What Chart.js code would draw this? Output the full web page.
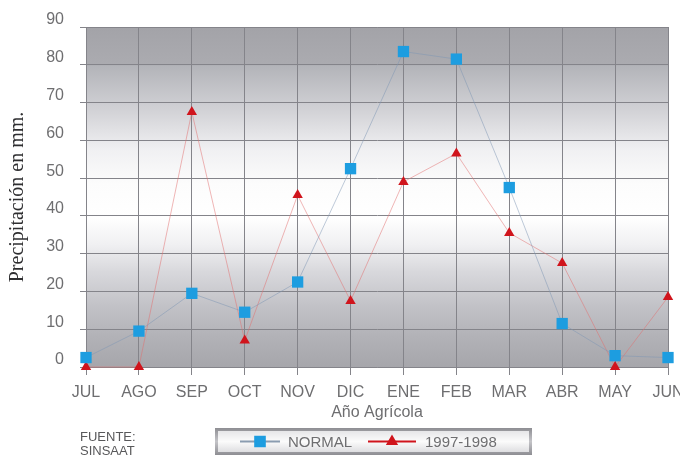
<!DOCTYPE html>
<html>
<head>
<meta charset="utf-8">
<script src="https://cdn.jsdelivr.net/npm/chart.js@4/dist/chart.umd.min.js"></script>
<style>
    html, body { margin: 0; padding: 0; background: #fff; }
</style>
</head>
<body>
<canvas id="myChart" width="680" height="458"></canvas>
<script>
// datos
const months = ["JUL", "AGO", "SEP", "OCT", "NOV", "DIC", "ENE", "FEB", "MAR", "ABR", "MAY", "JUN"];
const normal = [2.5, 9.5, 19.5, 14.5, 22.5, 52.5, 83.5, 81.5, 47.5, 11.5, 3, 2.5];
const season9798 = [0, 0, 67.5, 7, 45.5, 17.5, 49, 56.5, 35.5, 27.5, 0, 18.5];
const seriesNames = ["NORMAL", "1997-1998"];
const yMin = 0, yMax = 90, yStep = 10;

const textGray = "#6e6e70";

// fondo degradado del area de trazado
const plotBg = {
    id: "plotBg",
    beforeDraw(chart) {
        const { ctx, chartArea: a } = chart;
        const g = ctx.createLinearGradient(0, a.top, 0, a.bottom);
        g.addColorStop(0, "#a3a3a8");
        g.addColorStop(0.11, "#ababb0");
        g.addColorStop(0.115, "#b3b4b9");
        g.addColorStop(0.25, "#d3d3d7");
        g.addColorStop(0.36, "#f0f0f2");
        g.addColorStop(0.46, "#fcfcfc");
        g.addColorStop(0.56, "#ffffff");
        g.addColorStop(0.64, "#f0f0f2");
        g.addColorStop(0.72, "#d8d8dc");
        g.addColorStop(0.82, "#c2c2c7");
        g.addColorStop(0.91, "#b2b2b7");
        g.addColorStop(1, "#a6a6ab");
        ctx.save();
        ctx.fillStyle = g;
        ctx.fillRect(a.left, a.top, a.right - a.left, a.bottom - a.top);
        ctx.restore();
    }
};

// leyenda en caja gris + fuente
const boxLegend = {
    id: "boxLegend",
    afterDraw(chart) {
        const ctx = chart.ctx;
        const bx = 215, by = 428, bw = 317, bh = 27;
        ctx.save();
        let g = ctx.createLinearGradient(0, by, 0, by + bh);
        g.addColorStop(0, "#8e8e93");
        g.addColorStop(0.5, "#c4c4c8");
        g.addColorStop(1, "#8e8e93");
        ctx.fillStyle = g;
        ctx.fillRect(bx, by, bw, bh);
        g = ctx.createLinearGradient(0, by + 3, 0, by + bh - 3);
        g.addColorStop(0, "#e6e6e8");
        g.addColorStop(0.5, "#fbfbfb");
        g.addColorStop(1, "#dedee1");
        ctx.fillStyle = g;
        ctx.fillRect(bx + 3, by + 3, bw - 6, bh - 6);

        const cy = by + bh / 2;
        const items = [
            { x0: 240, x1: 280, tx: 288, line: "#8a9cb0" },
            { x0: 368, x1: 416, tx: 425, line: "#d0141c" }
        ];
        chart.data.datasets.forEach((ds, i) => {
            const it = items[i];
            ctx.strokeStyle = it.line;
            ctx.lineWidth = 2;
            ctx.beginPath();
            ctx.moveTo(it.x0, cy);
            ctx.lineTo(it.x1, cy);
            ctx.stroke();
            ctx.fillStyle = ds.pointBackgroundColor;
            ctx.strokeStyle = ds.pointBorderColor;
            Chart.helpers.drawPoint(ctx, {
                pointStyle: ds.pointStyle,
                radius: ds.pointRadius * 0.85,
                rotation: 0,
                borderWidth: 1
            }, (it.x0 + it.x1) / 2, cy);
            ctx.fillStyle = textGray;
            ctx.font = "15px 'Liberation Sans'";
            ctx.textAlign = "left";
            ctx.textBaseline = "middle";
            ctx.fillText(ds.label, it.tx, cy + 1);
        });

        ctx.fillStyle = "#58585a";
        ctx.font = "13px 'Liberation Sans'";
        ctx.textAlign = "left";
        ctx.textBaseline = "middle";
        ctx.fillText("FUENTE:", 80, 437);
        ctx.fillText("SINSAAT", 80, 451);
        ctx.restore();
    }
};

const ctx = document.getElementById("myChart");
new Chart(ctx, {
    type: "line",
    data: {
        labels: months,
        datasets: [
            {
                label: seriesNames[0],
                data: normal,
                borderColor: "rgba(125,150,180,0.5)",
                borderWidth: 1,
                pointStyle: "rect",
                pointRadius: 8,
                pointBackgroundColor: "#1d9de0",
                pointBorderColor: "#1d9de0",
                pointBorderWidth: 0,
                tension: 0,
                clip: false
            },
            {
                label: seriesNames[1],
                data: season9798,
                borderColor: "rgba(225,110,110,0.5)",
                borderWidth: 1,
                pointStyle: "triangle",
                pointRadius: 6,
                pointBackgroundColor: "#d0141c",
                pointBorderColor: "#d0141c",
                pointBorderWidth: 0,
                tension: 0,
                clip: false
            }
        ]
    },
    options: {
        responsive: false,
        animation: false,
        layout: { padding: { top: 27, right: 12, bottom: 0, left: 0 } },
        plugins: {
            legend: { display: false },
            tooltip: { enabled: false }
        },
        scales: {
            x: {
                type: "category",
                offset: false,
                afterFit: (s) => {
                    s.height = 91;
                    s.paddingLeft = 0;
                    s.paddingRight = 0;
                },
                grid: { color: "#84848a", lineWidth: 1, tickLength: 8, offset: false },
                border: { color: "#84848a" },
                ticks: {
                    color: textGray,
                    font: { family: "'Liberation Sans'", size: 16 },
                    padding: 8,
                    maxRotation: 0,
                    autoSkip: false
                },
                title: {
                    display: true,
                    text: "Año Agrícola",
                    color: textGray,
                    font: { family: "'Liberation Sans'", size: 16 },
                    padding: { top: 0, bottom: 36 }
                }
            },
            y: {
                min: yMin,
                max: yMax,
                afterFit: (s) => { s.width = 86; },
                grid: { color: "#84848a", lineWidth: 1, tickLength: 6 },
                border: { color: "#84848a" },
                ticks: {
                    stepSize: yStep,
                    color: textGray,
                    font: { family: "'Liberation Sans'", size: 16 },
                    padding: 16,
                    labelOffset: -7
                },
                title: {
                    display: true,
                    text: "Precipitación en mm.",
                    color: "#2e2e30",
                    font: { family: "'Liberation Serif'", size: 20 },
                    padding: { top: 6, bottom: 0 }
                }
            }
        }
    },
    plugins: [plotBg, boxLegend]
});
</script>
</body>
</html>
